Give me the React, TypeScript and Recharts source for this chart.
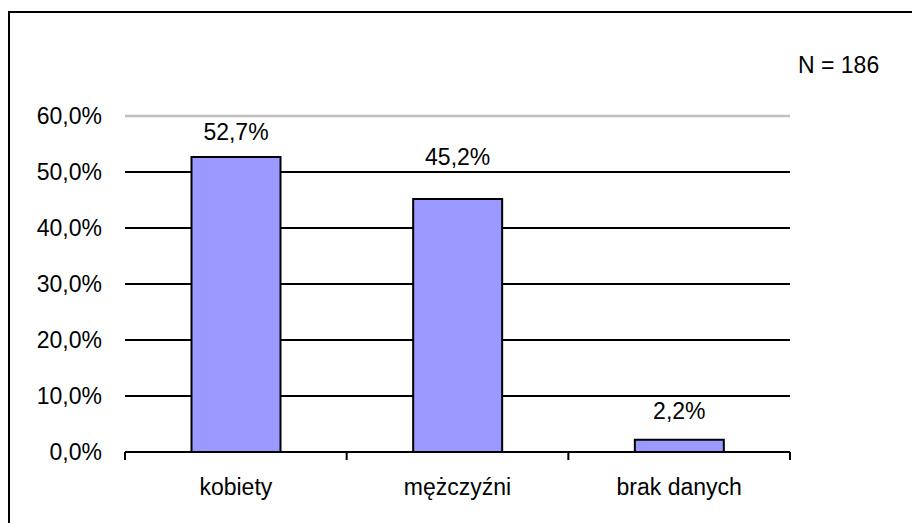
import React from "react"
import {
  BarChart, Bar, XAxis, YAxis, CartesianGrid, ReferenceLine, LabelList,
} from "recharts"

const categories = ["kobiety", "mężczyźni", "brak danych"]
const shares = [52.7, 45.2, 2.2]
const valueLabels = ["52,7%", "45,2%", "2,2%"]
const yTicks = [0, 10, 20, 30, 40, 50, 60]
const sampleNote = "N = 186"

// how far each value label sits above its bar (Excel placed them unevenly)
const labelLift = [17, 34, 21]

const FONT = "'Liberation Sans', Arial, sans-serif"

const data = categories.map((name, i) => ({ name, share: shares[i] }))

const fmtPct = (v: number) => v.toFixed(1).replace(".", ",") + "%"

/* eslint-disable @typescript-eslint/no-explicit-any */
const ValueLabel = (p: any) => (
  <text
    x={p.x + p.width / 2}
    y={p.y - labelLift[p.index]}
    textAnchor="middle"
    fontSize={23}
    fontFamily={FONT}
    fill="#000"
  >
    {valueLabels[p.index]}
  </text>
)

// category label plus Excel-style tick marks on the band edges
const CategoryTick = (p: any) => {
  const half = p.payload?.offset ?? 0
  const isLast = p.index === categories.length - 1
  return (
    <g>
      <line x1={p.x - half} x2={p.x - half} y1={p.y} y2={p.y + 8} stroke="#000" strokeWidth={2} />
      {isLast && <line x1={p.x + half} x2={p.x + half} y1={p.y} y2={p.y + 8} stroke="#000" strokeWidth={2} />}
      <text x={p.x} y={p.y + 27} dy="0.71em" textAnchor="middle" fontSize={23} fontFamily={FONT} fill="#000">
        {p.payload.value}
      </text>
    </g>
  )
}

export default function App() {
  return (
    <div style={{ position: "absolute", left: 0, top: 0, width: 912, height: 523, background: "#fff", overflow: "hidden" }}>
      {/* outer frame of the chart area, cut by the page edge */}
      <div style={{ position: "absolute", left: 8, top: 11, width: 920, height: 530, borderTop: "2px solid #000", borderLeft: "2px solid #000" }} />

      <BarChart
        width={912}
        height={523}
        data={data}
        margin={{ top: 116, right: 122, left: 0, bottom: 0 }}
        barCategoryGap="30%"
        style={{ position: "absolute", left: 0, top: 0 }}
      >
        <CartesianGrid vertical={false} stroke="#000" strokeWidth={2} />
        <XAxis
          dataKey="name"
          height={71}
          axisLine={{ stroke: "#000", strokeWidth: 2 }}
          tickLine={false}
          tickSize={0}
          tickMargin={0}
          interval={0}
          tick={CategoryTick}
        />
        <YAxis
          width={125}
          domain={[0, 60]}
          ticks={yTicks}
          tickFormatter={fmtPct}
          axisLine={false}
          tickLine={false}
          tickSize={0}
          tickMargin={23}
          tick={{ fontSize: 23, fontFamily: FONT, fill: "#000" }}
        />
        <ReferenceLine y={60} stroke="#c0c0c0" strokeWidth={2.5} />
        <Bar dataKey="share" fill="#9999FF" stroke="#000" strokeWidth={2} isAnimationActive={false}>
          <LabelList dataKey="share" content={ValueLabel} />
        </Bar>
      </BarChart>

      <svg width={912} height={523} style={{ position: "absolute", left: 0, top: 0, pointerEvents: "none" }}>
        <text x={798} y={73} fontSize={23} fontFamily={FONT} fill="#000">{sampleNote}</text>
      </svg>
    </div>
  )
}
